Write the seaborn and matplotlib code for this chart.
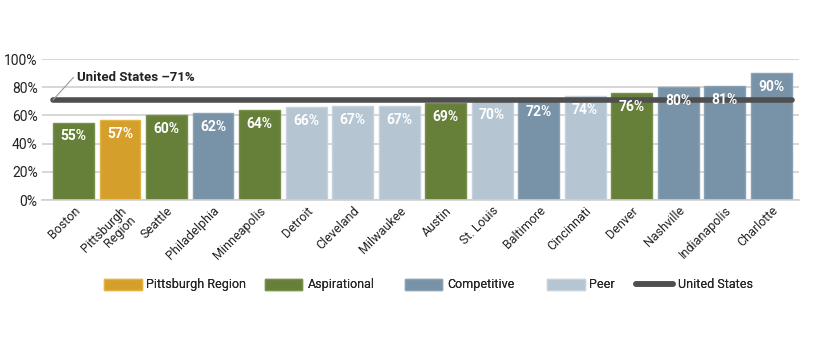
import matplotlib
matplotlib.use("Agg")
import matplotlib.pyplot as plt
import seaborn as sns
import pandas as pd
from matplotlib.patches import Patch
from matplotlib.lines import Line2D

# data
cities = ["Boston", "Pittsburgh\nRegion", "Seattle", "Philadelphia", "Minneapolis",
          "Detroit", "Cleveland", "Milwaukee", "Austin", "St. Louis", "Baltimore",
          "Cincinnati", "Denver", "Nashville", "Indianapolis", "Charlotte"]
values = [55, 57, 60, 62, 64, 66, 67, 67, 69, 70, 72, 74, 76, 80, 81, 90]
groups = ["Aspirational", "Pittsburgh Region", "Aspirational", "Competitive", "Aspirational",
          "Peer", "Peer", "Peer", "Aspirational", "Peer", "Competitive",
          "Peer", "Aspirational", "Competitive", "Competitive", "Competitive"]
us_value = 71

colors = {"Pittsburgh Region": "#D4A02B", "Aspirational": "#66803A",
          "Competitive": "#7892A8", "Peer": "#B5C5D2"}
edges = {"Pittsburgh Region": "#E2B443", "Aspirational": "#76924A",
         "Competitive": "#8AA2B6", "Peer": "#C6D3DD"}
line_color = "#4F4F4F"

sns.set_style("white")
plt.rcParams['font.family'] = ['Roboto', 'DejaVu Sans']

df = pd.DataFrame({"City": cities, "Value": values, "Group": groups})

fig = plt.figure(figsize=(8.2, 3.54), dpi=100)
ax = fig.add_axes([0.051, 0.435, 0.923, 0.398])

sns.barplot(data=df, x="City", y="Value", hue="City",
            palette=[colors[g] for g in groups], saturation=1,
            dodge=False, width=0.88, legend=False, ax=ax, zorder=2)

for bar, g in zip(ax.patches, groups):
    bar.set_edgecolor(edges[g])
    bar.set_linewidth(1.0)

n = len(cities)
ax.set_xlim(-0.68, n - 0.41)
ax.set_ylim(0, 100)
ax.set_yticks(range(0, 101, 20))
ax.set_yticklabels([f"{v}%" for v in range(0, 101, 20)], fontsize=10, color="#222222")
ax.yaxis.grid(True, color="#CFCFCF", linewidth=1.2, zorder=0)
ax.set_axisbelow(True)
for s in ["top", "right", "left"]:
    ax.spines[s].set_visible(False)
ax.spines["bottom"].set_color("#CFCFCF")
ax.spines["bottom"].set_linewidth(1.2)
ax.tick_params(axis="both", length=0, pad=3)
ax.set_xlabel("")
ax.set_ylabel("")
ax.set_xticks(range(n))
ax.set_xticklabels(cities, rotation=45, ha="right", va="top", rotation_mode="anchor",
                   fontsize=9, color="#222222", linespacing=0.95)

# value labels
for i, v in enumerate(values):
    ax.annotate(f"{v}%", (i, v), xytext=(0, -10), textcoords="offset points",
                ha="center", va="center", color="white", fontsize=10,
                fontweight="bold", zorder=5)

# United States line
ax.plot([-0.44, n - 1 + 0.44], [us_value, us_value], color=line_color,
        linewidth=4, solid_capstyle="round", zorder=4)
ax.plot([-0.44, 0.0], [us_value, us_value + 16], color="#9A9A9A", linewidth=0.8, zorder=4)
ax.text(0.08, us_value + 16, "United States \u201371%", fontsize=9.5, fontweight="bold",
        color="#222222", ha="left", va="center", zorder=5)

# legend entries, one per spot as in the reference
handles = [Patch(facecolor=colors[k], edgecolor=edges[k]) for k in colors]
handles.append(Line2D([0], [0], color=line_color, linewidth=4, solid_capstyle="round"))
labels = list(colors.keys()) + ["United States"]
legend_x = [104, 265, 405, 547, 636]
for h, lab, x in zip(handles, labels, legend_x):
    leg = fig.legend([h], [lab], loc="center left", bbox_to_anchor=(x / 820, 0.195),
                     frameon=False, fontsize=9, handlelength=3.0, handleheight=1.0,
                     handletextpad=0.4, borderpad=0, borderaxespad=0)
    fig.add_artist(leg)

fig.savefig("out.png", dpi=100)
